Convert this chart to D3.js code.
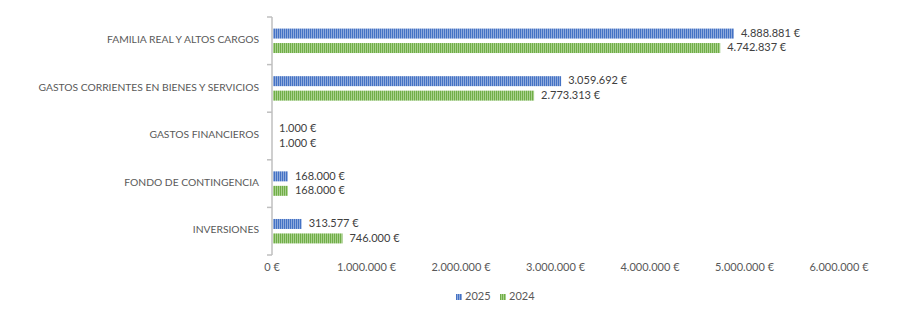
<!DOCTYPE html>
<html>
<head>
<meta charset="utf-8">
<script src="https://cdn.jsdelivr.net/npm/d3@7"></script>
<style>
html,body{margin:0;padding:0;background:#fff;}
svg{display:block;font-family:Lato,"Open Sans",sans-serif;}
</style>
</head>
<body>
<svg id="chart" width="897" height="328"></svg>
<script>
const categories = ["FAMILIA REAL Y ALTOS CARGOS","GASTOS CORRIENTES EN BIENES Y SERVICIOS","GASTOS FINANCIEROS","FONDO DE CONTINGENCIA","INVERSIONES"];
const seriesNames = ["2025","2024"];
const values2025 = [4888881, 3059692, 1000, 168000, 313577];
const values2024 = [4742837, 2773313, 1000, 168000, 746000];
const xTicks = [0,1000000,2000000,3000000,4000000,5000000,6000000];

const colors = {"2025":["#4472C4","#8FAADC"], "2024":["#70AD47","#A9D18E"]};
const seriesValues = {"2025":values2025, "2024":values2024};

const loc = d3.formatLocale({decimal:",", thousands:".", grouping:[3], currency:["","\u00a0€"]});
const fmt = v => loc.format(",")(v) + " €";

const svg = d3.select("#chart");
const defs = svg.append("defs");
seriesNames.forEach(s=>{
  const p = defs.append("pattern").attr("id","pat"+s).attr("patternUnits","userSpaceOnUse")
    .attr("width",2).attr("height",4);
  p.append("rect").attr("width",2).attr("height",4).attr("fill",colors[s][1]);
  p.append("rect").attr("width",1).attr("height",4).attr("fill",colors[s][0]);
});

const x = d3.scaleLinear().domain([0,6000000]).range([272,839]);
const y = d3.scaleBand().domain(categories).range([17,255]);
const y1 = d3.scaleBand().domain(seriesNames).range([0,y.bandwidth()]).paddingInner(0.31).paddingOuter(0.8);

// axis line
const axisG = svg.append("g");
axisG.append("line").attr("x1",x(0)).attr("x2",x(0)).attr("y1",y.range()[0]).attr("y2",y.range()[1])
  .attr("stroke","#BFBFBF").attr("stroke-width",1.5);
const bounds = categories.map(c=>y(c)).concat([y.range()[1]]);
axisG.selectAll("line.tk").data(bounds).enter().append("line").attr("class","tk")
  .attr("x1",x(0)-5).attr("x2",x(0)).attr("y1",d=>d).attr("y2",d=>d)
  .attr("stroke","#BFBFBF").attr("stroke-width",1.5);

// category labels
svg.append("g").selectAll("text").data(categories).enter().append("text")
  .attr("x",259).attr("y",d=>y(d)+y.bandwidth()/2-0.5)
  .attr("text-anchor","end").attr("dominant-baseline","middle")
  .attr("font-size",10.3).attr("fill","#595959").text(d=>d);

// x tick labels
svg.append("g").selectAll("text").data(xTicks).enter().append("text")
  .attr("x",d=>x(d)).attr("y",268).attr("text-anchor","middle").attr("dominant-baseline","middle")
  .attr("font-size",11).attr("fill","#595959").text(d=>fmt(d));

// bars
const rows = [];
categories.forEach((c,i)=>seriesNames.forEach(s=>rows.push({c,s,v:seriesValues[s][i]})));
const bars = svg.append("g");
bars.selectAll("rect").data(rows).enter().append("rect")
  .attr("x",x(0)+1).attr("y",d=>y(d.c)+y1(d.s))
  .attr("width",d=>Math.max(0,x(d.v)-x(0)-1)).attr("height",y1.bandwidth())
  .attr("fill",d=>"url(#pat"+d.s+")");
bars.selectAll("text").data(rows).enter().append("text")
  .attr("x",d=>x(d.v)+7).attr("y",d=>y(d.c)+y1(d.s)+y1.bandwidth()/2+0.5)
  .attr("dominant-baseline","middle").attr("font-size",11).attr("fill","#404040")
  .text(d=>fmt(d.v));

// legend
const leg = svg.append("g");
const legItems = [{s:"2025",x:456},{s:"2024",x:500}];
leg.selectAll("rect").data(legItems).enter().append("rect")
  .attr("x",d=>d.x).attr("y",294).attr("width",6).attr("height",6)
  .attr("fill",d=>"url(#pat"+d.s+")");
leg.selectAll("text").data(legItems).enter().append("text")
  .attr("x",d=>d.x+9).attr("y",297.5).attr("dominant-baseline","middle")
  .attr("font-size",11).attr("fill","#595959").text(d=>d.s);
</script>
</body>
</html>
